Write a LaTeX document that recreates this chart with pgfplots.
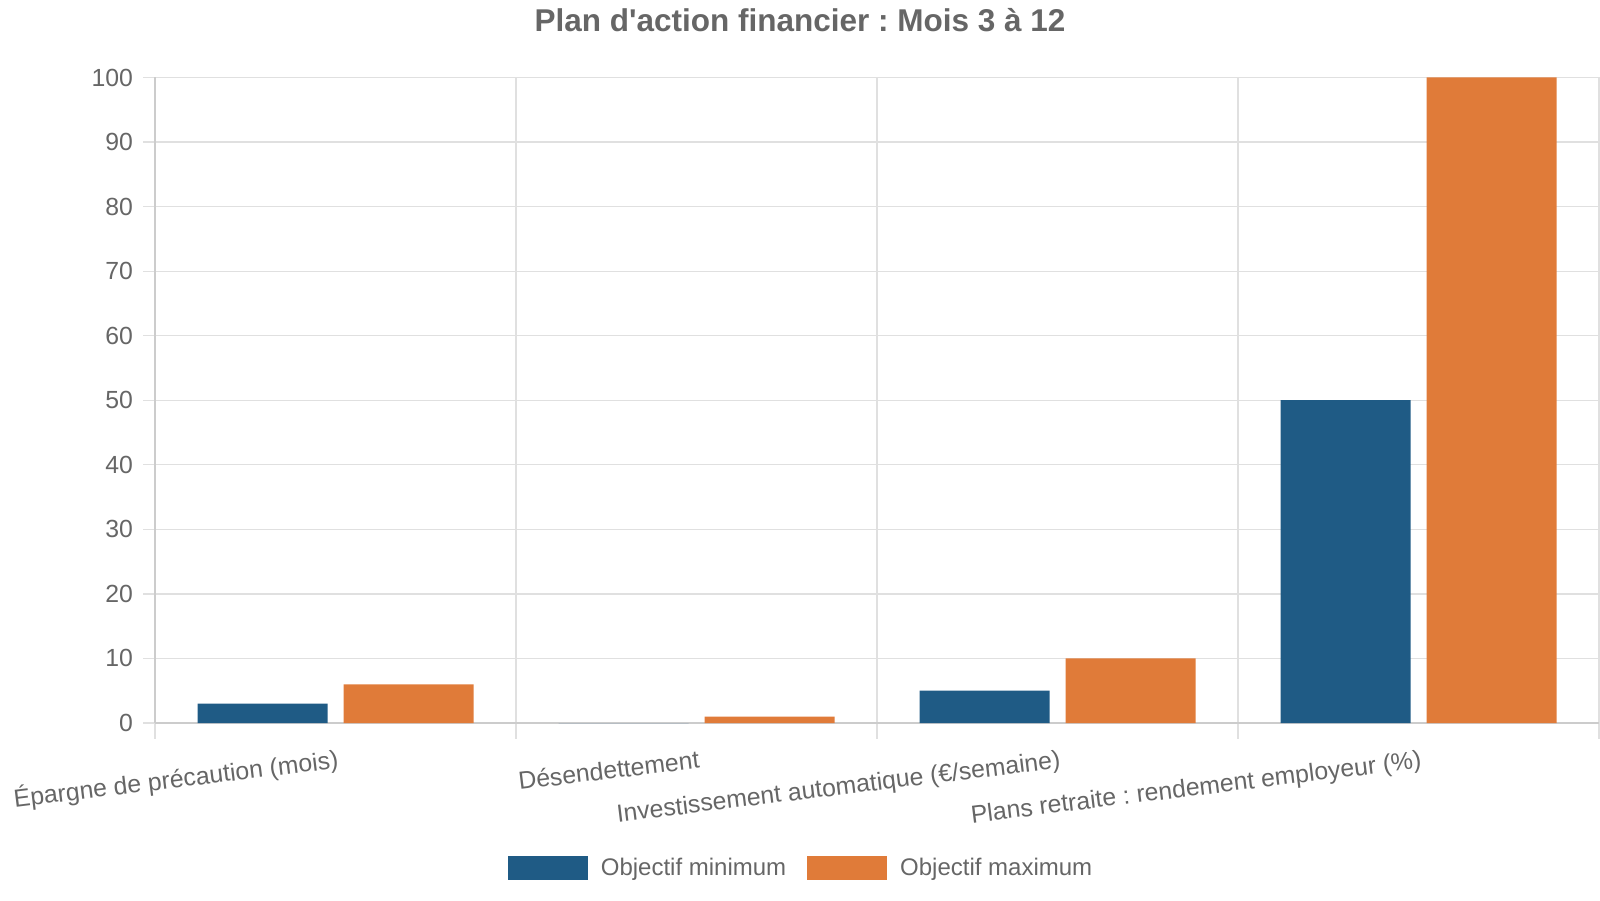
\documentclass[border=0pt]{standalone}
\usepackage{pgfplots}
\pgfplotsset{compat=1.18}
\usepackage{fontspec}
\setmainfont{Liberation Sans}
\frenchspacing

\definecolor{bluemin}{HTML}{1F5B85}
\definecolor{orangemax}{HTML}{E07B39}
\definecolor{txtgray}{HTML}{666666}
\definecolor{gridgray}{HTML}{E0E0E0}
\definecolor{axisgray}{HTML}{CCCCCC}

\begin{document}
\begin{tikzpicture}
  \useasboundingbox (0,0) rectangle (800pt,450pt);
  \pgfplotsset{
    ybar legend/.style={
      legend image code/.code={\fill[##1] (0pt,-6.1pt) rectangle (40pt,6.1pt);}
    }
  }
  \begin{axis}[
      at={(77.5pt,88.5pt)}, anchor=south west,
      scale only axis,
      width=722pt, height=322.75pt,
      ybar=8pt, bar width=65pt,
      xmin=-0.5, xmax=3.5,
      ymin=0, ymax=100,
      xtick={0,1,2,3},
      xticklabels={
        Épargne de précaution (mois),
        Désendettement,
        Investissement automatique (€/semaine),
        Plans retraite : rendement employeur (\%)},
      minor xtick={-0.5,0.5,1.5,2.5,3.5},
      ytick={0,10,...,100},
      axis x line*=bottom, axis y line*=left,
      axis line style={draw=axisgray, line width=0.7pt},
      ymajorgrids, xminorgrids,
      grid style={draw=gridgray, line width=0.6pt},
      minor grid style={draw=gridgray, line width=0.6pt},
      tick align=outside,
      major tick length=6pt, minor tick length=8pt,
      every major x tick/.append style={draw=none},
      every minor x tick/.append style={draw=gridgray, line width=0.6pt},
      every major y tick/.append style={draw=gridgray, line width=0.6pt},
      /pgf/number format/assume math mode=true,
      ticklabel style={font=\fontsize{12.4}{14}\selectfont, text=txtgray},
      yticklabel style={xshift=-1.5pt},
      xticklabel style={rotate=7, anchor=base east, inner sep=0pt, yshift=-16.5pt},
      legend style={
        at={(0.4467,-0.2246)}, anchor=center,
        draw=none, fill=none,
        legend columns=-1,
        font=\fontsize{12}{14}\selectfont, text=txtgray,
        /tikz/every odd column/.append style={column sep=6.5pt},
        /tikz/every even column/.append style={column sep=10.5pt},
        nodes={inner sep=0pt},
      },
    ]
    \addplot[fill=bluemin, draw=none] coordinates {(0,3) (1,0) (2,5) (3,50)};
    \addplot[fill=orangemax, draw=none] coordinates {(0,6) (1,1) (2,10) (3,100)};
    \legend{Objectif minimum, Objectif maximum}
  \end{axis}
  \node[anchor=base, text=txtgray, font=\fontsize{15.75}{18}\selectfont\bfseries]
    at (400pt,434.2pt) {Plan d\textquotesingle action financier : Mois 3 à 12};
\end{tikzpicture}
\end{document}
